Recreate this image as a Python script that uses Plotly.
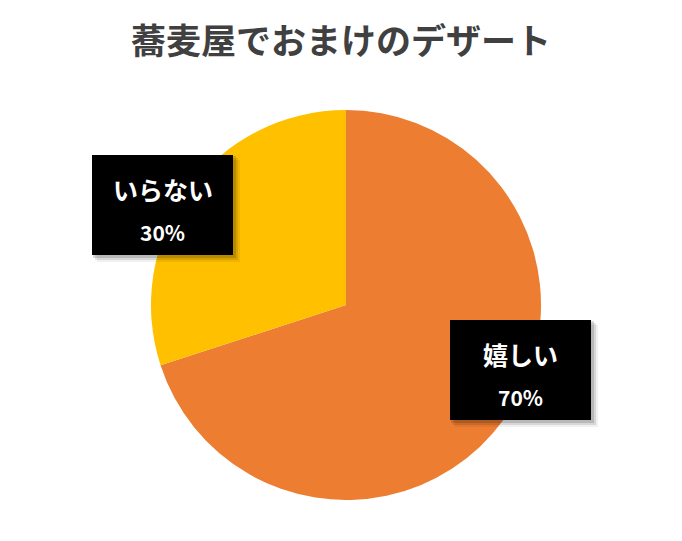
import plotly.graph_objects as go

# data
categories = ["嬉しい", "いらない"]
values = [70, 30]
colors = ["#ED7D31", "#FFC000"]
title = "蕎麦屋でおまけのデザート"

W, H = 682, 541
FONT = "Noto Sans CJK JP"

def px_x(x):
    return x / W

def px_y(y):
    return 1 - y / H

cx, cy, r = 346, 305, 195

fig = go.Figure()
fig.add_trace(go.Pie(
    labels=categories,
    values=values,
    marker=dict(colors=colors),
    sort=False,
    direction="clockwise",
    rotation=0,
    textinfo="none",
    hoverinfo="label+percent",
    showlegend=False,
    domain=dict(x=[px_x(cx - r), px_x(cx + r)], y=[px_y(cy + r), px_y(cy - r)]),
))

# label boxes (top-left corner in pixels)
boxes = {"いらない": (92, 155), "嬉しい": (450, 320)}
bw, bh = 141, 100
total = sum(values)
shapes = []
annotations = []
for name, val in zip(categories, values):
    x0, y0 = boxes[name]
    # soft shadow, a few layers
    for off, a in [(7, 0.06), (5, 0.10), (3, 0.14)]:
        shapes.append(dict(type="rect", xref="paper", yref="paper",
                           x0=px_x(x0 + off - 2), x1=px_x(x0 + bw + off),
                           y0=px_y(y0 + bh + off), y1=px_y(y0 + off - 2),
                           fillcolor="rgba(0,0,0,%s)" % a, line=dict(width=0), layer="above"))
    shapes.append(dict(type="rect", xref="paper", yref="paper",
                       x0=px_x(x0), x1=px_x(x0 + bw),
                       y0=px_y(y0 + bh), y1=px_y(y0),
                       fillcolor="#000000", line=dict(width=0), layer="above"))
    mid = x0 + bw / 2
    annotations.append(dict(x=px_x(mid), y=px_y(y0 + 34), xref="paper", yref="paper",
                            xanchor="center", yanchor="middle",
                            text="<b>%s</b>" % name, showarrow=False,
                            font=dict(family=FONT, size=25, color="white")))
    annotations.append(dict(x=px_x(mid), y=px_y(y0 + 77), xref="paper", yref="paper",
                            xanchor="center", yanchor="middle",
                            text="<b>%d%%</b>" % round(val / total * 100), showarrow=False,
                            font=dict(family=FONT, size=21, color="white")))

fig.update_layout(
    width=W, height=H,
    margin=dict(l=0, r=0, t=0, b=0),
    paper_bgcolor="white",
    plot_bgcolor="white",
    title=dict(text="<b>%s</b>" % title, x=0.5, xanchor="center", y=1 - 42 / H, yanchor="middle",
               font=dict(family=FONT, size=35, color="#404040")),
    shapes=shapes,
    annotations=annotations,
)

fig.write_html("out.html", config={"displayModeBar": False},
               post_script="document.body.style.margin='0px';")
